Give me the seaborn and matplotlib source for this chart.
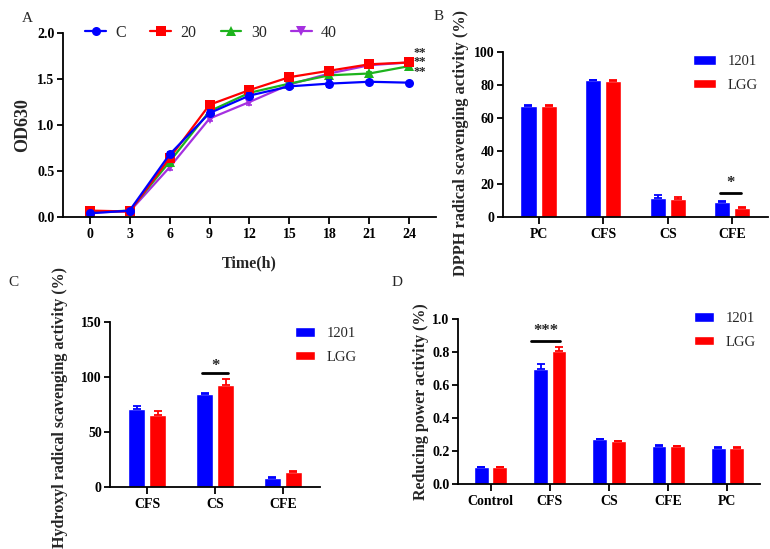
import pandas as pd
import seaborn as sns
import matplotlib.pyplot as plt

# ---- data ----
# A: growth curves (OD630)
time_h = [0, 3, 6, 9, 12, 15, 18, 21, 24]
od_groups = ["C", "20", "30", "40"]
od_c = [0.04, 0.07, 0.68, 1.13, 1.32, 1.42, 1.45, 1.47, 1.46]
od_20 = [0.07, 0.06, 0.64, 1.22, 1.38, 1.52, 1.59, 1.66, 1.68]
od_30 = [0.05, 0.07, 0.60, 1.15, 1.35, 1.45, 1.54, 1.56, 1.64]
od_40 = [0.05, 0.06, 0.54, 1.07, 1.25, 1.44, 1.56, 1.65, 1.68]
od_c_err = [0.01, 0.01, 0.03, 0.03, 0.03, 0.02, 0.04, 0.01, 0.01]
od_20_err = [0.02, 0.02, 0.03, 0.03, 0.02, 0.02, 0.02, 0.02, 0.02]
od_30_err = [0.01, 0.01, 0.03, 0.02, 0.02, 0.02, 0.02, 0.02, 0.02]
od_40_err = [0.01, 0.01, 0.03, 0.03, 0.03, 0.02, 0.02, 0.02, 0.02]

strains = ["1201", "LGG"]

# B: DPPH radical scavenging activity (%)
dpph_cats = ["PC", "CFS", "CS", "CFE"]
dpph_1201 = [67.5, 83.0, 11.5, 9.0]
dpph_lgg = [67.5, 82.5, 11.0, 5.5]
dpph_1201_err = [0.6, 0.3, 1.6, 0.8]
dpph_lgg_err = [0.5, 0.4, 1.2, 0.8]

# C: hydroxyl radical scavenging activity (%)
oh_cats = ["CFS", "CS", "CFE"]
oh_1201 = [70.5, 84.5, 7.9]
oh_lgg = [65.4, 92.7, 13.5]
oh_1201_err = [3.5, 0.8, 1.5]
oh_lgg_err = [3.6, 5.3, 1.2]

# D: reducing power activity (%)
rp_cats = ["Control", "CFS", "CS", "CFE", "PC"]
rp_1201 = [0.101, 0.697, 0.271, 0.233, 0.218]
rp_lgg = [0.101, 0.806, 0.259, 0.230, 0.218]
rp_1201_err = [0.005, 0.032, 0.004, 0.003, 0.004]
rp_lgg_err = [0.005, 0.024, 0.003, 0.003, 0.004]

BLUE = "#0000ff"
RED = "#ff0000"
GREEN = "#1db31d"
PURPLE = "#a530e0"

sns.set_theme(style="ticks")
plt.rcParams["font.family"] = ["Liberation Serif", "DejaVu Serif"]
plt.rcParams["axes.linewidth"] = 1.3
plt.rcParams["xtick.major.width"] = 1.3
plt.rcParams["ytick.major.width"] = 1.3
plt.rcParams["xtick.major.size"] = 5
plt.rcParams["ytick.major.size"] = 4
plt.rcParams["xtick.major.pad"] = 3
plt.rcParams["ytick.major.pad"] = 2


def style_axis(ax, tick_size=10):
    sns.despine(ax=ax)
    for spine in ax.spines.values():
        spine.set_color("black")
    ax.tick_params(colors="black", labelsize=tick_size)
    for lab in ax.get_xticklabels() + ax.get_yticklabels():
        lab.set_fontweight("bold")


def bar_panel(ax, cats, v1, v2, e1, e2, ylim, yticks, ylabel, label_xy,
              leg_anchor, handlelen, label_size=11.5):
    df = pd.DataFrame({
        "cat": cats + cats,
        "strain": [strains[0]] * len(cats) + [strains[1]] * len(cats),
        "value": v1 + v2,
    })
    sns.barplot(data=df, x="cat", y="value", hue="strain", hue_order=strains,
                palette=[BLUE, RED], width=0.62, gap=0.2, errorbar=None,
                saturation=1, ax=ax)
    errs = [e1, e2]
    for p in list(ax.patches):
        if p.get_height() <= 0 or p.get_width() <= 0:
            continue
        cx = p.get_x() + p.get_width() / 2
        i = int(round(cx))
        k = 0 if cx < i else 1
        col = BLUE if k == 0 else RED
        ax.errorbar(cx, p.get_height(), yerr=[[0], [errs[k][i]]], fmt="none",
                    ecolor=col, elinewidth=1.3, capsize=3, capthick=1.3)
    ax.set_ylim(*ylim)
    ax.set_yticks(yticks)
    ax.set_xlim(-0.55, len(cats) - 0.45)
    ax.set_xlabel("")
    ax.set_ylabel(ylabel, fontsize=label_size, fontweight="bold", va="center")
    ax.yaxis.set_label_coords(*label_xy)
    ax.legend(loc="upper left", bbox_to_anchor=leg_anchor, frameon=False,
              fontsize=10.5, handlelength=handlelen, handleheight=0.65,
              handletextpad=0.8, labelspacing=0.7, borderpad=0,
              borderaxespad=0)
    style_axis(ax)


def sig_mark(ax, x0, x1, y, text, ty):
    ax.plot([x0, x1], [y, y], color="black", lw=2)
    ax.text((x0 + x1) / 2, ty, text, ha="center", va="center",
            fontsize=12, fontweight="bold")


fig = plt.figure(figsize=(7.7, 5.49), dpi=100)

# ---- A ----
axA = fig.add_axes([0.0818, 0.6047, 0.4844, 0.3352])
series = [od_c, od_20, od_30, od_40]
series_err = [od_c_err, od_20_err, od_30_err, od_40_err]
colors = [BLUE, RED, GREEN, PURPLE]
markers = ["o", "s", "^", "v"]
for g, vals, errs, col, mk in reversed(list(zip(od_groups, series, series_err,
                                                 colors, markers))):
    sns.lineplot(x=time_h, y=vals, color=col, marker=mk, markersize=6.5,
                 markeredgewidth=0, linewidth=1.6, label=g, ax=axA)
    axA.errorbar(time_h, vals, yerr=errs, fmt="none", ecolor=col,
                 elinewidth=1.2, capsize=2.5, capthick=1.2)
handles, labels = axA.get_legend_handles_labels()
order = [labels.index(g) for g in od_groups]
axA.legend([handles[i] for i in order], [labels[i] for i in order], ncol=4,
           loc="center left", bbox_to_anchor=(0.06, 1.0), frameon=False,
           fontsize=11.5, handlelength=1.3, handletextpad=0.6,
           columnspacing=1.5, borderpad=0, borderaxespad=0)
axA.set_xlim(-2, 26)
axA.set_ylim(0, 2.0)
axA.set_xticks(time_h)
axA.set_yticks([0, 0.5, 1.0, 1.5, 2.0])
axA.yaxis.set_major_formatter(plt.FormatStrFormatter("%.1f"))
axA.set_xlabel("Time(h)", fontsize=11.5, fontweight="bold", va="center")
axA.xaxis.set_label_coords(0.5, -0.25)
axA.set_ylabel("OD630", fontsize=13, fontweight="bold", va="center")
axA.yaxis.set_label_coords(-0.107, 0.5)
axA.text(24.75, 1.68, "**\n**\n**", ha="center", va="center", fontsize=9,
         fontweight="bold", linespacing=0.75)
style_axis(axA)

# ---- B ----
axB = fig.add_axes([0.6532, 0.6047, 0.3442, 0.3005])
bar_panel(axB, dpph_cats, dpph_1201, dpph_lgg, dpph_1201_err, dpph_lgg_err,
          (0, 100), [0, 20, 40, 60, 80, 100],
          "DPPH radical scavenging activity (%)", (-0.16, 0.45),
          (0.717, 0.98), 1.6, label_size=11.8)
sig_mark(axB, 2.81, 3.13, 14.5, "*", 20.8)

# ---- C ----
axC = fig.add_axes([0.1429, 0.1129, 0.2727, 0.3005])
bar_panel(axC, oh_cats, oh_1201, oh_lgg, oh_1201_err, oh_lgg_err,
          (0, 150), [0, 50, 100, 150],
          "Hydroxyl radical scavenging activity (%)", (-0.24, 0.48),
          (0.881, 0.967), 1.4)
sig_mark(axC, 0.81, 1.19, 104, "*", 110)

# ---- D ----
axD = fig.add_axes([0.5948, 0.1184, 0.3922, 0.3005])
bar_panel(axD, rp_cats, rp_1201, rp_lgg, rp_1201_err, rp_lgg_err,
          (0, 1.0), [0, 0.2, 0.4, 0.6, 0.8, 1.0],
          "Reducing power activity (%)", (-0.122, 0.5), (0.781, 1.04), 1.4)
axD.yaxis.set_major_formatter(plt.FormatStrFormatter("%.1f"))
sig_mark(axD, 0.69, 1.18, 0.867, "***", 0.927)

# panel letters
for txt, x, y in [("A", 27, 18), ("B", 439, 16), ("C", 13, 282), ("D", 397, 282)]:
    fig.text(x / 770, 1 - y / 549, txt, ha="center", va="center", fontsize=11)

fig.savefig("out.png", dpi=100)
